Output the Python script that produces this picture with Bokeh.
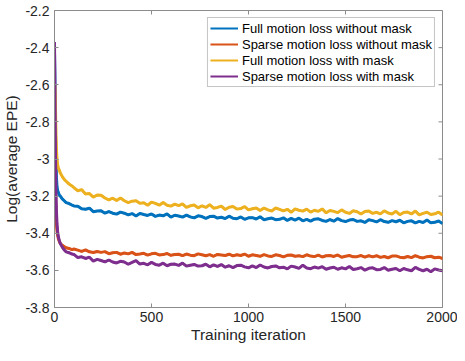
import math
from bokeh.plotting import figure
from bokeh.models import Range1d, FixedTicker, Legend, LegendItem, CustomJSTickFormatter
from bokeh.embed import file_html
from bokeh.resources import INLINE

# ---------------- data ----------------
early_iters = [0, 2, 4, 6, 8, 10, 13, 16, 20, 25, 30, 40, 50, 60, 75, 90]
later_iters = list(range(100, 2001, 20))
iterations = early_iters + later_iters

series_names = [
    "Full motion loss without mask",
    "Sparse motion loss without mask",
    "Full motion loss with mask",
    "Sparse motion loss with mask",
]

full_without_mask = [
    -2.42, -2.55, -2.75, -2.92, -3.03, -3.10, -3.15, -3.17, -3.18, -3.195, -3.20, -3.215, -3.225, -3.235, -3.24, -3.248,
    -3.253, -3.254, -3.268, -3.271, -3.265, -3.284, -3.280, -3.279, -3.292, -3.283,
    -3.292, -3.297, -3.286, -3.292, -3.301, -3.294, -3.307, -3.293, -3.299, -3.304,
    -3.296, -3.309, -3.302, -3.306, -3.296, -3.313, -3.303, -3.307, -3.313, -3.302,
    -3.312, -3.317, -3.306, -3.310, -3.320, -3.310, -3.308, -3.318, -3.314, -3.321,
    -3.308, -3.319, -3.322, -3.312, -3.325, -3.317, -3.316, -3.323, -3.311, -3.327,
    -3.322, -3.318, -3.327, -3.325, -3.317, -3.331, -3.320, -3.329, -3.319, -3.333,
    -3.325, -3.335, -3.324, -3.322, -3.331, -3.336, -3.326, -3.335, -3.321, -3.332,
    -3.337, -3.329, -3.326, -3.336, -3.333, -3.342, -3.327, -3.332, -3.339, -3.327,
    -3.337, -3.341, -3.332, -3.338, -3.330, -3.344, -3.336, -3.333, -3.344, -3.336,
    -3.342, -3.329, -3.344, -3.341, -3.334, -3.348,
]

sparse_without_mask = [
    -2.75, -2.95, -3.10, -3.22, -3.30, -3.35, -3.39, -3.41, -3.43, -3.445, -3.455, -3.465, -3.472, -3.478, -3.482, -3.488,
    -3.485, -3.491, -3.498, -3.490, -3.500, -3.504, -3.498, -3.503, -3.499, -3.510,
    -3.505, -3.503, -3.513, -3.506, -3.511, -3.503, -3.515, -3.512, -3.508, -3.518,
    -3.511, -3.508, -3.517, -3.515, -3.509, -3.519, -3.515, -3.513, -3.521, -3.512,
    -3.518, -3.521, -3.511, -3.516, -3.521, -3.515, -3.524, -3.514, -3.517, -3.520,
    -3.513, -3.522, -3.516, -3.520, -3.512, -3.524, -3.516, -3.520, -3.524, -3.515,
    -3.522, -3.525, -3.516, -3.520, -3.527, -3.519, -3.517, -3.524, -3.521, -3.526,
    -3.516, -3.523, -3.526, -3.518, -3.528, -3.521, -3.520, -3.525, -3.517, -3.529,
    -3.524, -3.520, -3.527, -3.526, -3.520, -3.529, -3.521, -3.527, -3.521, -3.530,
    -3.525, -3.532, -3.523, -3.522, -3.529, -3.532, -3.525, -3.531, -3.521, -3.529,
    -3.533, -3.526, -3.524, -3.532, -3.529, -3.536,
]

full_with_mask = [
    -2.64, -2.60, -2.66, -2.78, -2.88, -2.95, -3.00, -3.03, -3.05, -3.06, -3.075, -3.095, -3.11, -3.12, -3.135, -3.145,
    -3.154, -3.171, -3.165, -3.188, -3.186, -3.205, -3.194, -3.195, -3.210, -3.220,
    -3.211, -3.224, -3.210, -3.225, -3.235, -3.227, -3.225, -3.239, -3.236, -3.249,
    -3.232, -3.239, -3.249, -3.234, -3.249, -3.254, -3.243, -3.251, -3.242, -3.261,
    -3.252, -3.248, -3.263, -3.252, -3.261, -3.246, -3.265, -3.261, -3.254, -3.272,
    -3.260, -3.256, -3.270, -3.267, -3.256, -3.274, -3.268, -3.264, -3.278, -3.264,
    -3.274, -3.280, -3.264, -3.271, -3.280, -3.271, -3.287, -3.269, -3.276, -3.281,
    -3.270, -3.286, -3.276, -3.282, -3.269, -3.290, -3.277, -3.282, -3.289, -3.274,
    -3.287, -3.293, -3.279, -3.284, -3.296, -3.283, -3.280, -3.293, -3.287, -3.296,
    -3.279, -3.291, -3.296, -3.282, -3.300, -3.288, -3.286, -3.296, -3.280, -3.301,
    -3.293, -3.287, -3.299, -3.295, -3.286, -3.302,
]

sparse_with_mask = [
    -2.37, -2.60, -2.85, -3.05, -3.20, -3.28, -3.35, -3.39, -3.42, -3.44, -3.455, -3.475, -3.49, -3.50, -3.505, -3.512,
    -3.514, -3.531, -3.527, -3.536, -3.529, -3.550, -3.541, -3.547, -3.554, -3.544,
    -3.555, -3.560, -3.551, -3.555, -3.567, -3.557, -3.547, -3.566, -3.562, -3.570,
    -3.557, -3.568, -3.572, -3.561, -3.575, -3.567, -3.566, -3.573, -3.561, -3.577,
    -3.572, -3.568, -3.577, -3.575, -3.567, -3.581, -3.570, -3.579, -3.569, -3.583,
    -3.575, -3.585, -3.574, -3.572, -3.581, -3.586, -3.576, -3.585, -3.571, -3.582,
    -3.587, -3.579, -3.576, -3.586, -3.583, -3.592, -3.577, -3.582, -3.589, -3.572,
    -3.587, -3.591, -3.582, -3.588, -3.580, -3.594, -3.587, -3.583, -3.594, -3.586,
    -3.592, -3.579, -3.595, -3.591, -3.585, -3.599, -3.589, -3.586, -3.596, -3.595,
    -3.585, -3.599, -3.594, -3.590, -3.602, -3.590, -3.597, -3.602, -3.584, -3.595,
    -3.602, -3.594, -3.607, -3.592, -3.598, -3.602,
]

x_tick_values = [0, 500, 1000, 1500, 2000]
x_tick_labels = ["0", "500", "1000", "1500", "2000"]
y_tick_values = [-3.8, -3.6, -3.4, -3.2, -3.0, -2.8, -2.6, -2.4, -2.2]
y_tick_labels = ["-3.8", "-3.6", "-3.4", "-3.2", "-3", "-2.8", "-2.6", "-2.4", "-2.2"]
x_limits = (0, 2000)
y_limits = (-3.8, -2.2)

colors = ["#0072BD", "#D95319", "#EDB120", "#7E2F8E"]

# ---------------- figure ----------------
FONT = "Liberation Sans"
AXIS_GRAY = "#8c8c8c"
TEXT = "#262626"

p = figure(
    width=457, height=345,
    output_backend="svg", toolbar_location=None,
    x_range=Range1d(*x_limits), y_range=Range1d(*y_limits),
    min_border_left=44, min_border_right=15, min_border_top=10, min_border_bottom=30,
)
p.background_fill_color = "white"
p.border_fill_color = "white"
p.outline_line_color = AXIS_GRAY
p.outline_line_width = 1
p.xgrid.visible = False
p.ygrid.visible = False

series = [full_without_mask, sparse_without_mask, full_with_mask, sparse_with_mask]
legend_renderers = []
for vals, c in zip(series, colors):
    # wide stroke gives the noisy band its thickness
    p.line(iterations, vals, line_color=c, line_width=3)
    # same data, thinner stroke (hidden inside the band) used for the legend swatch
    legend_renderers.append(p.line(iterations, vals, line_color=c, line_width=2))

# mirrored inward ticks on top and right edges (box style)
p.ray(x=x_tick_values, y=[y_limits[1]] * len(x_tick_values), length=4, length_units="screen",
      angle=-math.pi / 2, line_color=AXIS_GRAY, line_width=1)
p.ray(x=[x_limits[1]] * len(y_tick_values), y=y_tick_values, length=4, length_units="screen",
      angle=math.pi, line_color=AXIS_GRAY, line_width=1)

LABEL_JS = """
let best = 0;
for (let i = 0; i < vals.length; i++) {
  if (Math.abs(vals[i] - tick) < Math.abs(vals[best] - tick)) best = i;
}
return labs[best];
"""

for ax in (p.xaxis[0], p.yaxis[0]):
    ax.axis_line_color = AXIS_GRAY
    ax.major_tick_line_color = AXIS_GRAY
    ax.major_tick_in = 4
    ax.major_tick_out = 0
    ax.minor_tick_line_color = None
    ax.major_label_text_font = FONT
    ax.major_label_text_font_size = "14px"
    ax.major_label_text_color = TEXT
    ax.axis_label_text_font = FONT
    ax.axis_label_text_font_size = "15.5px"
    ax.axis_label_text_font_style = "normal"
    ax.axis_label_text_color = TEXT

p.xaxis[0].ticker = FixedTicker(ticks=x_tick_values)
p.xaxis[0].formatter = CustomJSTickFormatter(args=dict(vals=x_tick_values, labs=x_tick_labels), code=LABEL_JS)
p.xaxis[0].axis_label = "Training iteration"
p.xaxis[0].major_label_standoff = 4
p.xaxis[0].axis_label_standoff = 1

p.yaxis[0].ticker = FixedTicker(ticks=y_tick_values)
p.yaxis[0].formatter = CustomJSTickFormatter(args=dict(vals=y_tick_values, labs=y_tick_labels), code=LABEL_JS)
p.yaxis[0].axis_label = "Log(average EPE)"
p.yaxis[0].major_label_standoff = 5
p.yaxis[0].axis_label_standoff = 2

legend = Legend(
    items=[LegendItem(label=n, renderers=[r]) for n, r in zip(series_names, legend_renderers)],
    location="top_right",
    margin=7,
    padding=2,
    spacing=0,
    glyph_width=28,
    glyph_height=16,
    label_height=16,
    label_standoff=4,
    label_text_font=FONT,
    label_text_font_size="13px",
    label_text_color="black",
    border_line_color=AXIS_GRAY,
    border_line_width=1,
    background_fill_color="white",
    background_fill_alpha=1.0,
)
p.add_layout(legend)

open("out.html", "w").write(file_html(p, INLINE))
